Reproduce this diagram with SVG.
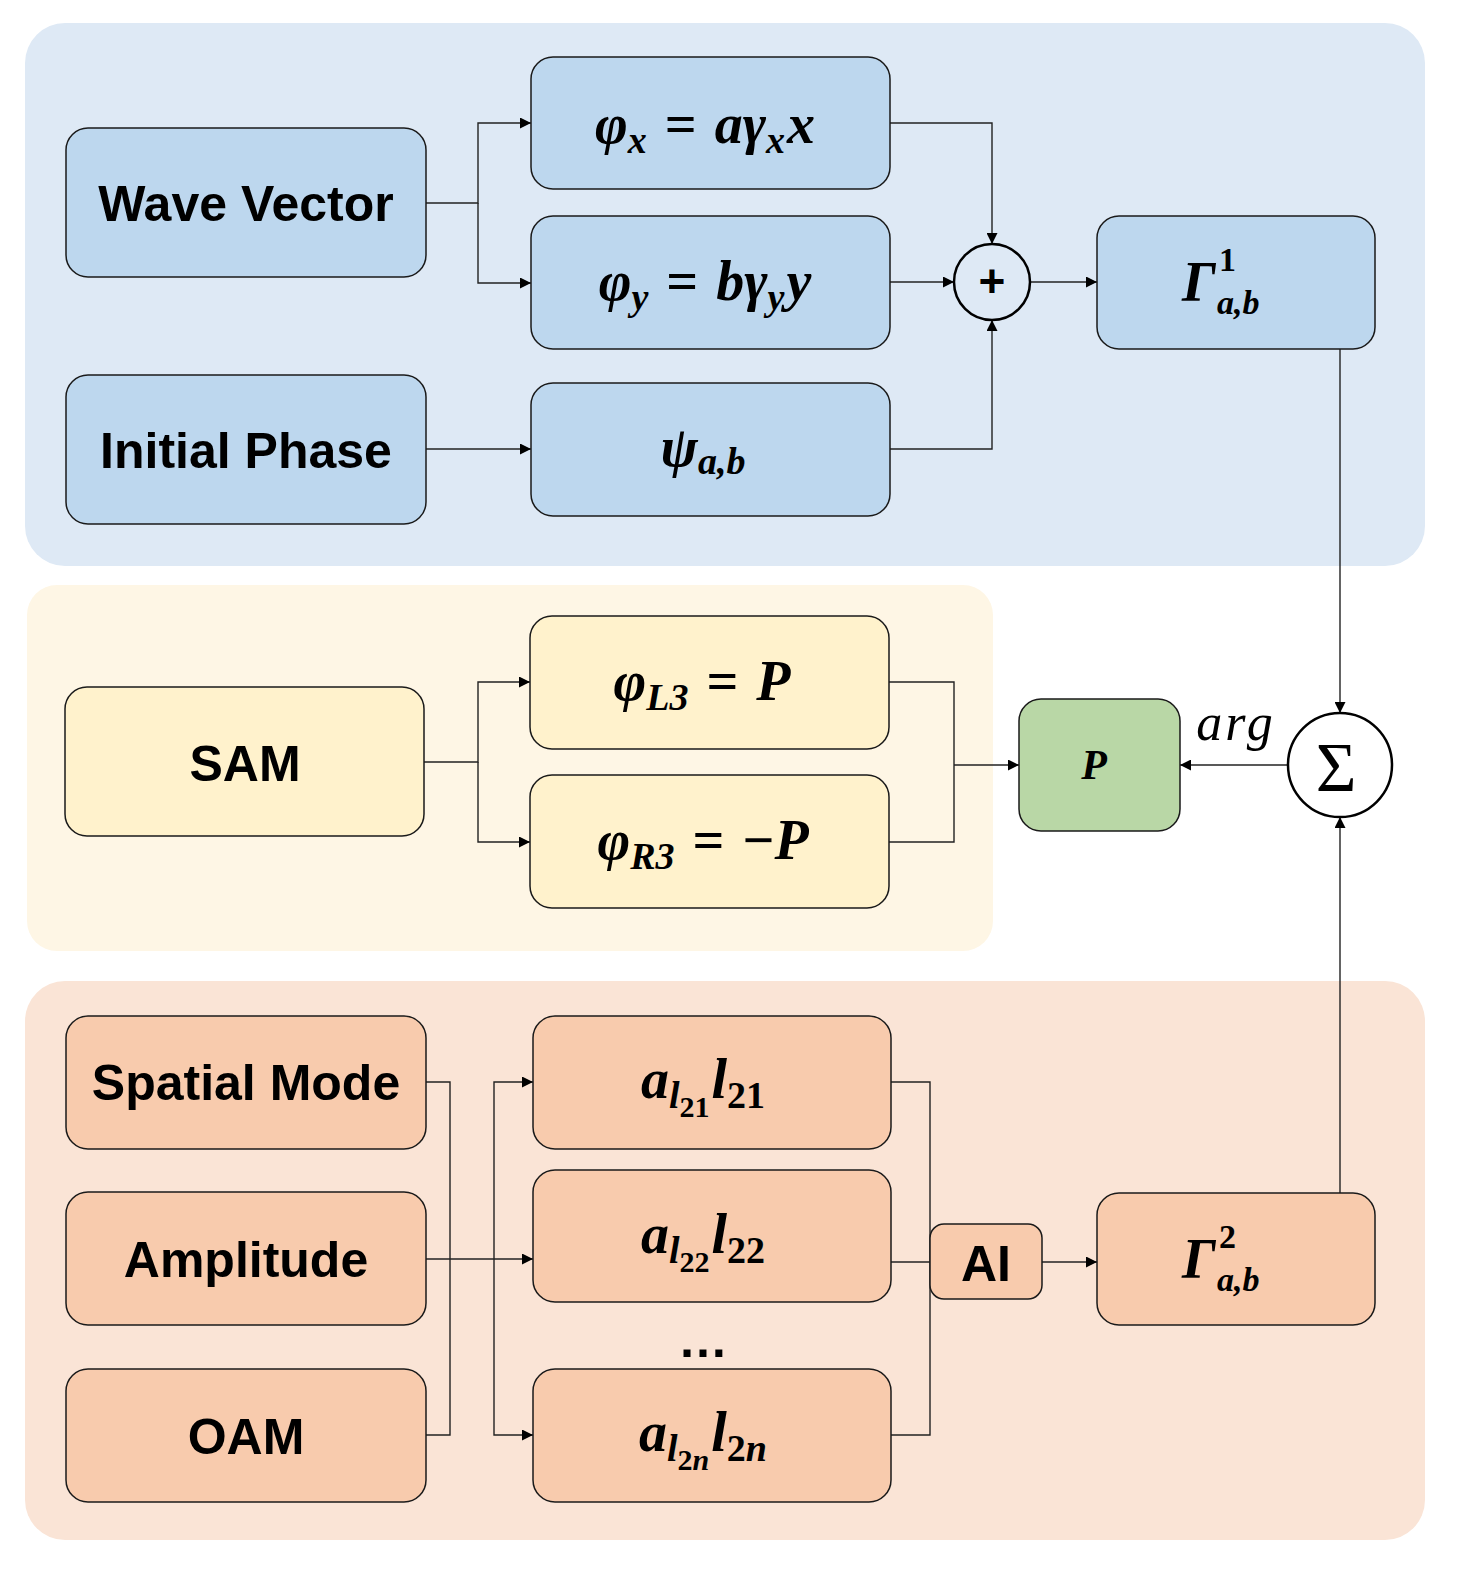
<svg xmlns="http://www.w3.org/2000/svg" width="1458" height="1572" viewBox="0 0 1458 1572">
<style>
.panel{stroke:none}
.node{stroke:#1a1a1a;stroke-width:1.5}
.blue{fill:#bdd7ee}
.yel{fill:#fff2cc}
.org{fill:#f8cbad}
.grn{fill:#b9d7a6}
.lbl{font-family:"Liberation Sans",Arial,sans-serif;font-weight:bold;font-size:50px;fill:#000;text-anchor:middle}
.m{font-family:"Liberation Serif","DejaVu Serif",serif;font-weight:bold;font-style:italic;font-size:56px;fill:#000}
.sub{font-size:38px}
.ss{font-size:30px}
.gs{font-size:34px}
.up{font-style:normal}
.conn{fill:none;stroke:#222;stroke-width:1.4}
</style>
<defs>
<marker id="arr" viewBox="0 0 10 10" refX="10" refY="5" markerWidth="12" markerHeight="11" markerUnits="userSpaceOnUse" orient="auto">
<path d="M0,0 L10,5 L0,10 z" fill="#000"/>
</marker>
</defs>
<rect width="1458" height="1572" fill="#ffffff"/>
<g id="panels">
<rect class="panel" x="25" y="23" width="1400" height="543" rx="40" fill="#dee9f5"/>
<rect class="panel" x="27" y="585" width="966" height="366" rx="30" fill="#fef6e5"/>
<rect class="panel" x="25" y="981" width="1400" height="559" rx="40" fill="#fae4d6"/>
</g>
<g id="connectors">
<path class="conn" d="M426,203 H478 V123 H531" marker-end="url(#arr)"/>
<path class="conn" d="M478,203 V283 H531" marker-end="url(#arr)"/>
<path class="conn" d="M890,123 H992 V244" marker-end="url(#arr)"/>
<path class="conn" d="M890,282 H954" marker-end="url(#arr)"/>
<path class="conn" d="M890,449 H992 V320" marker-end="url(#arr)"/>
<path class="conn" d="M1030,282 H1097" marker-end="url(#arr)"/>
<path class="conn" d="M426,449 H531" marker-end="url(#arr)"/>
<path class="conn" d="M1340,349 V713" marker-end="url(#arr)"/>
<path class="conn" d="M424,762 H478 V682 H530" marker-end="url(#arr)"/>
<path class="conn" d="M478,762 V842 H530" marker-end="url(#arr)"/>
<path class="conn" d="M889,682 H954 V842 H889"/>
<path class="conn" d="M954,765 H1019" marker-end="url(#arr)"/>
<path class="conn" d="M1288,765 H1180" marker-end="url(#arr)"/>
<path class="conn" d="M1340,1193 V817" marker-end="url(#arr)"/>
<path class="conn" d="M426,1082 H450 V1435 H426"/>
<path class="conn" d="M426,1259 H533" marker-end="url(#arr)"/>
<path class="conn" d="M494,1259 V1082 H533" marker-end="url(#arr)"/>
<path class="conn" d="M494,1259 V1435 H533" marker-end="url(#arr)"/>
<path class="conn" d="M891,1082 H930 V1435 H891"/>
<path class="conn" d="M891,1262 H930"/>
<path class="conn" d="M1042,1262 H1097" marker-end="url(#arr)"/>
</g>
<g id="wave-vector">
<rect class="node blue" x="66" y="128" width="360" height="149" rx="22"/>
<text class="lbl" x="246" y="221">Wave Vector</text>
</g>
<g id="phi-x">
<rect class="node blue" x="531" y="57" width="359" height="132" rx="22"/>
<text class="m" x="705" y="143" text-anchor="middle">φ<tspan class="sub" dy="10">x</tspan><tspan dy="-10" dx="18" class="up">=</tspan><tspan dx="18">aγ</tspan><tspan class="sub" dy="10">x</tspan><tspan dy="-10" dx="2">x</tspan></text>
</g>
<g id="phi-y">
<rect class="node blue" x="531" y="216" width="359" height="133" rx="22"/>
<text class="m" x="705" y="300" text-anchor="middle">φ<tspan class="sub" dy="10">y</tspan><tspan dy="-10" dx="18" class="up">=</tspan><tspan dx="18">bγ</tspan><tspan class="sub" dy="10">y</tspan><tspan dy="-10" dx="2">y</tspan></text>
</g>
<g id="initial-phase">
<rect class="node blue" x="66" y="375" width="360" height="149" rx="22"/>
<text class="lbl" x="246" y="468">Initial Phase</text>
</g>
<g id="psi">
<rect class="node blue" x="531" y="383" width="359" height="133" rx="22"/>
<text class="m" x="703" y="466" text-anchor="middle">ψ<tspan class="sub" dy="8">a,b</tspan></text>
</g>
<g id="plus">
<circle cx="992" cy="282" r="38" fill="none" stroke="#000" stroke-width="2.5"/>
<text x="992" y="297" font-family="Liberation Sans,Arial,sans-serif" font-weight="bold" font-size="46" text-anchor="middle">+</text>
</g>
<g id="gamma1">
<rect class="node blue" x="1097" y="216" width="278" height="133" rx="22"/>
<text class="m" x="1182" y="301">Γ</text>
<text class="m up gs" x="1219" y="271">1</text>
<text class="m gs" x="1217" y="314">a,b</text>
</g>
<g id="sam">
<rect class="node yel" x="65" y="687" width="359" height="149" rx="22"/>
<text class="lbl" x="245" y="781">SAM</text>
</g>
<g id="phi-l3">
<rect class="node yel" x="530" y="616" width="359" height="133" rx="22"/>
<text class="m" x="702" y="700" text-anchor="middle">φ<tspan class="sub" dy="10">L3</tspan><tspan dy="-10" dx="18" class="up">=</tspan><tspan dx="18">P</tspan></text>
</g>
<g id="phi-r3">
<rect class="node yel" x="530" y="775" width="359" height="133" rx="22"/>
<text class="m" x="703" y="859" text-anchor="middle">φ<tspan class="sub" dy="10">R3</tspan><tspan dy="-10" dx="18" class="up">=</tspan><tspan dx="18" class="up">−</tspan><tspan>P</tspan></text>
</g>
<g id="p">
<rect class="node grn" x="1019" y="699" width="161" height="132" rx="22"/>
<text class="m" x="1094" y="779" text-anchor="middle" style="font-size:42px">P</text>
</g>
<g id="sum">
<circle cx="1340" cy="765" r="52" fill="#fff" stroke="#000" stroke-width="2.5"/>
<text x="1336" y="791" font-family="Liberation Serif,DejaVu Serif,serif" font-size="70" text-anchor="middle">Σ</text>
<text x="1236" y="740" font-family="Liberation Serif,DejaVu Serif,serif" font-style="italic" font-size="52" letter-spacing="3" text-anchor="middle">arg</text>
</g>
<g id="spatial-mode">
<rect class="node org" x="66" y="1016" width="360" height="133" rx="22"/>
<text class="lbl" x="246" y="1100">Spatial Mode</text>
</g>
<g id="amplitude">
<rect class="node org" x="66" y="1192" width="360" height="133" rx="22"/>
<text class="lbl" x="246" y="1277">Amplitude</text>
</g>
<g id="oam">
<rect class="node org" x="66" y="1369" width="360" height="133" rx="22"/>
<text class="lbl" x="246" y="1454">OAM</text>
</g>
<g id="a-l21">
<rect class="node org" x="533" y="1016" width="358" height="133" rx="22"/>
<text class="m" x="703" y="1098" text-anchor="middle">a<tspan class="sub" dy="10">l</tspan><tspan class="ss up" dy="9">21</tspan><tspan dy="-19" dx="2">l</tspan><tspan class="sub up" dy="10">21</tspan></text>
</g>
<g id="a-l22">
<rect class="node org" x="533" y="1170" width="358" height="132" rx="22"/>
<text class="m" x="703" y="1253" text-anchor="middle">a<tspan class="sub" dy="10">l</tspan><tspan class="ss up" dy="9">22</tspan><tspan dy="-19" dx="2">l</tspan><tspan class="sub up" dy="10">22</tspan></text>
</g>
<g id="dots">
<text class="lbl" x="703" y="1357">…</text>
</g>
<g id="a-l2n">
<rect class="node org" x="533" y="1369" width="358" height="133" rx="22"/>
<text class="m" x="703" y="1451" text-anchor="middle">a<tspan class="sub" dy="10">l</tspan><tspan class="ss" dy="9"><tspan class="up">2</tspan>n</tspan><tspan dy="-19" dx="2">l</tspan><tspan class="sub" dy="10"><tspan class="up">2</tspan>n</tspan></text>
</g>
<g id="ai">
<rect class="node org" x="930" y="1224" width="112" height="75" rx="14"/>
<text class="lbl" x="986" y="1281">AI</text>
</g>
<g id="gamma2">
<rect class="node org" x="1097" y="1193" width="278" height="132" rx="22"/>
<text class="m" x="1182" y="1278">Γ</text>
<text class="m up gs" x="1219" y="1248">2</text>
<text class="m gs" x="1217" y="1291">a,b</text>
</g>
</svg>
